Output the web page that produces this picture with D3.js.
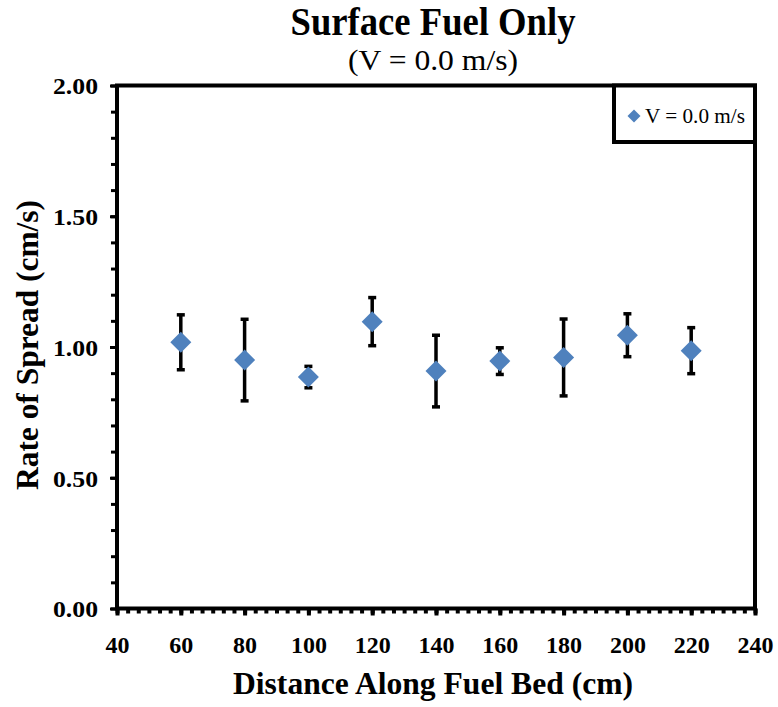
<!DOCTYPE html>
<html>
<head>
<meta charset="utf-8">
<script src="https://cdn.jsdelivr.net/npm/d3@7"></script>
<style>
  html, body { margin: 0; padding: 0; background: #fff; }
  svg { display: block; }
  text { font-family: "Liberation Serif", "Times New Roman", serif; fill: #000; }
</style>
</head>
<body>
<svg id="chart" width="778" height="707"></svg>
<script>
// ---- data ----
const distance = [60, 80, 100, 120, 140, 160, 180, 200, 220];
const rateOfSpread = [1.018, 0.950, 0.885, 1.097, 0.908, 0.946, 0.960, 1.045, 0.986];
const errorValues = [0.105, 0.156, 0.041, 0.092, 0.137, 0.051, 0.147, 0.082, 0.088];
const xTickValues = [40, 60, 80, 100, 120, 140, 160, 180, 200, 220, 240];
const yTickValues = [0, 0.5, 1.0, 1.5, 2.0];
const seriesName = "V = 0.0 m/s";
const titleText = "Surface Fuel Only";
const subtitleText = "(V = 0.0 m/s)";
const xAxisTitle = "Distance Along Fuel Bed (cm)";
const yAxisTitle = "Rate of Spread (cm/s)";

// ---- layout ----
const svg = d3.select("#chart");
const plot = { left: 117, right: 755, top: 85.5, bottom: 608.5 };
const blue = "#4F81BD";

const x = d3.scaleLinear().domain([40, 240]).range([plot.left, plot.right]);
const y = d3.scaleLinear().domain([0, 2]).range([plot.bottom, plot.top]);

// minor ticks
const yMinor = d3.range(0, 21).map(i => i / 10);
const xMinor = d3.range(0, 61).map(i => 40 + i * 10 / 3);

const gyMinor = svg.append("g").attr("transform", `translate(${plot.left},0)`)
  .call(d3.axisLeft(y).tickValues(yMinor).tickSize(6).tickFormat(""));
gyMinor.select(".domain").remove();
gyMinor.selectAll("line").attr("stroke", "#000").attr("stroke-width", 3);

const gxMinor = svg.append("g").attr("transform", `translate(0,${plot.bottom})`)
  .call(d3.axisBottom(x).tickValues(xMinor).tickSize(5).tickFormat(""));
gxMinor.select(".domain").remove();
gxMinor.selectAll("line").attr("stroke", "#000").attr("stroke-width", 4);

// major axes
const gy = svg.append("g").attr("transform", `translate(${plot.left},0)`)
  .call(d3.axisLeft(y).tickValues(yTickValues).tickSize(7).tickPadding(12).tickFormat(d3.format(".2f")));
gy.select(".domain").remove();
gy.selectAll("line").attr("stroke", "#000").attr("stroke-width", 3);
gy.selectAll("text")
  .attr("font-size", 23).attr("font-weight", "bold")
  .attr("textLength", 45).attr("lengthAdjust", "spacingAndGlyphs")
  .attr("dy", "0.36em");

const gx = svg.append("g").attr("transform", `translate(0,${plot.bottom})`)
  .call(d3.axisBottom(x).tickValues(xTickValues).tickSize(7).tickPadding(20));
gx.select(".domain").remove();
gx.selectAll("line").attr("stroke", "#000").attr("stroke-width", 4);
gx.selectAll("text")
  .attr("font-size", 24).attr("font-weight", "bold");

// plot frame
svg.append("rect")
  .attr("x", plot.left).attr("y", plot.top)
  .attr("width", plot.right - plot.left).attr("height", plot.bottom - plot.top)
  .attr("fill", "none").attr("stroke", "#000").attr("stroke-width", 4);

// data
const pts = distance.map((d, i) => ({ x: d, v: rateOfSpread[i], e: errorValues[i] }));

const eb = svg.append("g");
eb.selectAll("line.bar").data(pts).join("line")
  .attr("x1", d => x(d.x)).attr("x2", d => x(d.x))
  .attr("y1", d => y(d.v + d.e)).attr("y2", d => y(d.v - d.e))
  .attr("stroke", "#000").attr("stroke-width", 3.5);
eb.selectAll("line.capTop").data(pts).join("line").attr("class", "capTop")
  .attr("x1", d => x(d.x) - 4).attr("x2", d => x(d.x) + 4)
  .attr("y1", d => y(d.v + d.e)).attr("y2", d => y(d.v + d.e))
  .attr("stroke", "#000").attr("stroke-width", 3.5);
eb.selectAll("line.capBot").data(pts).join("line").attr("class", "capBot")
  .attr("x1", d => x(d.x) - 4).attr("x2", d => x(d.x) + 4)
  .attr("y1", d => y(d.v - d.e)).attr("y2", d => y(d.v - d.e))
  .attr("stroke", "#000").attr("stroke-width", 3.5);

const diamond = r => `M0,${-r}L${r},0L0,${r}L${-r},0Z`;
svg.append("g").selectAll("path").data(pts).join("path")
  .attr("transform", d => `translate(${x(d.x)},${y(d.v)})`)
  .attr("d", diamond(10.5))
  .attr("fill", blue);

// legend
const leg = svg.append("g");
leg.append("rect")
  .attr("x", 614).attr("y", plot.top)
  .attr("width", plot.right - 614).attr("height", 142 - plot.top)
  .attr("fill", "#fff").attr("stroke", "#000").attr("stroke-width", 4);
leg.append("path").attr("transform", "translate(634,116)").attr("d", diamond(6.5)).attr("fill", blue);
leg.append("text").attr("x", 645).attr("y", 123)
  .attr("font-size", 20).attr("textLength", 100).attr("lengthAdjust", "spacingAndGlyphs")
  .text(seriesName);

// titles
svg.append("text").attr("x", 433).attr("y", 35).attr("text-anchor", "middle")
  .attr("font-size", 40).attr("font-weight", "bold")
  .attr("textLength", 285).attr("lengthAdjust", "spacingAndGlyphs")
  .text(titleText);
svg.append("text").attr("x", 433).attr("y", 70).attr("text-anchor", "middle")
  .attr("font-size", 30)
  .attr("textLength", 170).attr("lengthAdjust", "spacingAndGlyphs")
  .text(subtitleText);
svg.append("text").attr("x", 433).attr("y", 694).attr("text-anchor", "middle")
  .attr("font-size", 31).attr("font-weight", "bold")
  .attr("textLength", 400).attr("lengthAdjust", "spacingAndGlyphs")
  .text(xAxisTitle);
svg.append("text").attr("transform", "translate(38,345) rotate(-90)").attr("text-anchor", "middle")
  .attr("font-size", 31).attr("font-weight", "bold")
  .attr("textLength", 290).attr("lengthAdjust", "spacingAndGlyphs")
  .text(yAxisTitle);
</script>
</body>
</html>
